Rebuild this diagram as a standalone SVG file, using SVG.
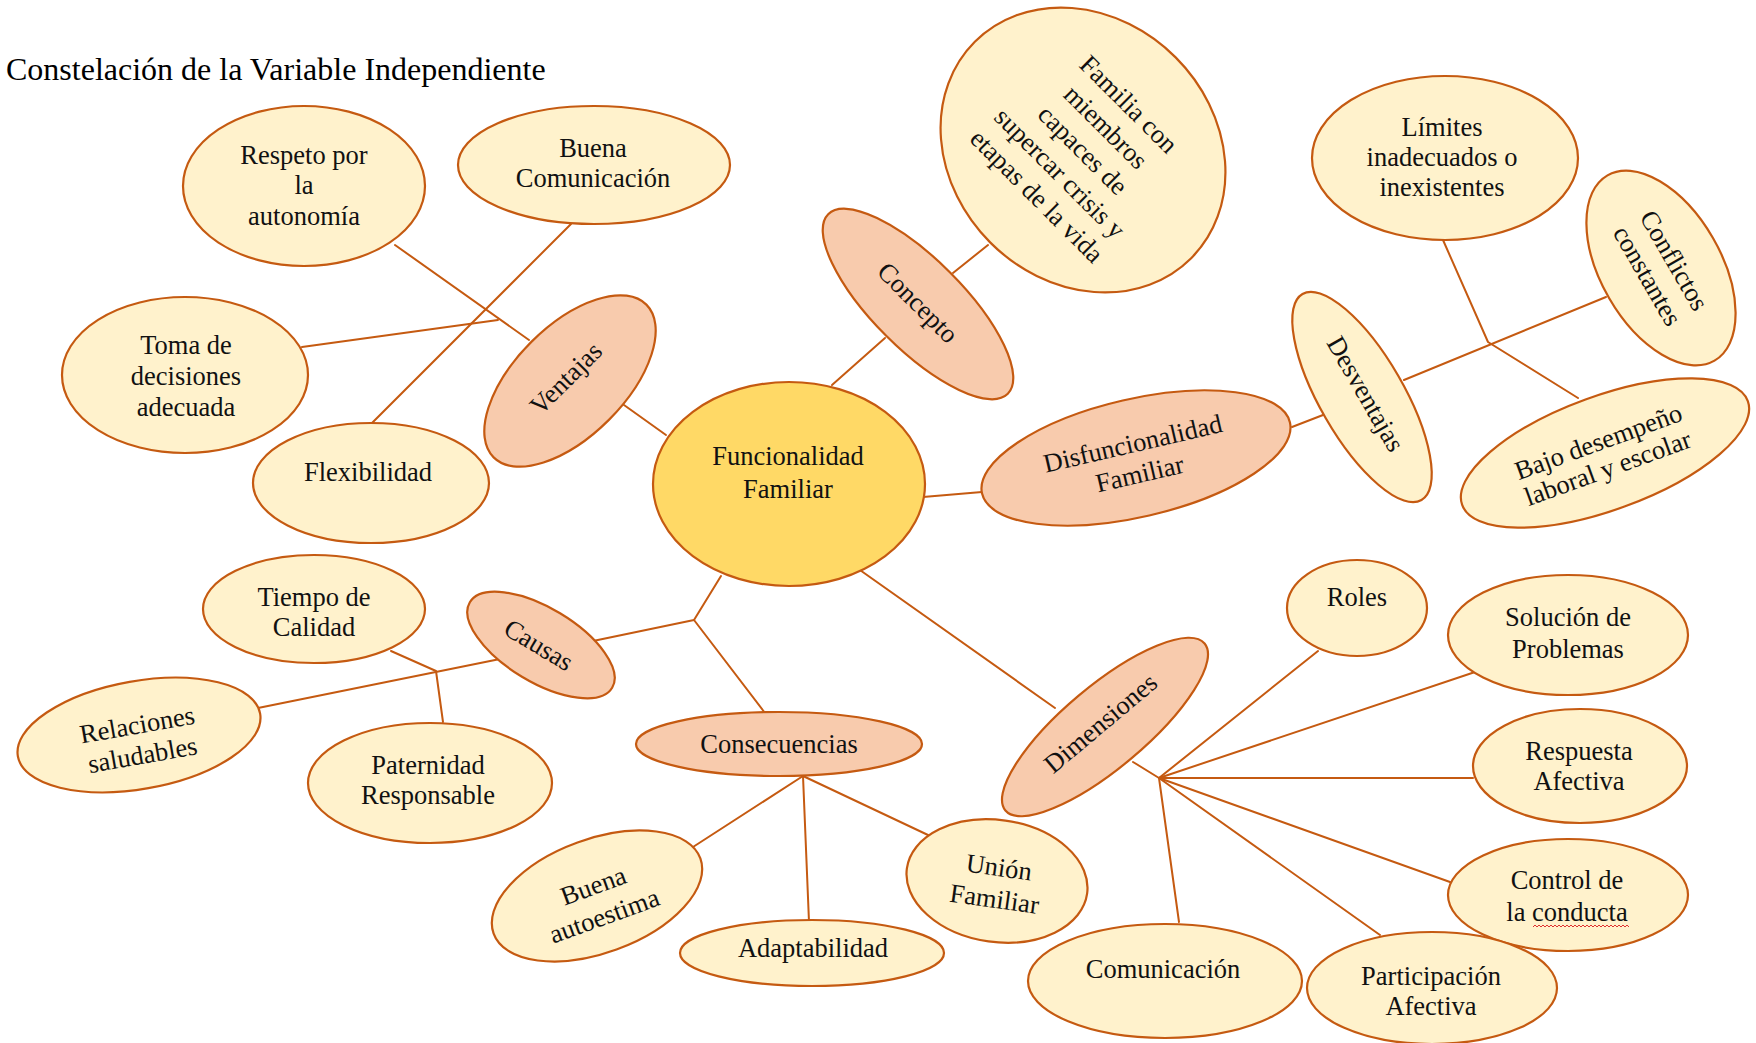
<svg xmlns="http://www.w3.org/2000/svg" width="1756" height="1043" viewBox="0 0 1756 1043">
<style>
.ln{stroke:#C55A11;stroke-width:2;fill:none;stroke-linecap:round;stroke-linejoin:round}
.lt{fill:#FFF2CC;stroke:#C55A11;stroke-width:2.2}
.sa{fill:#F8CBAD;stroke:#C55A11;stroke-width:2.2}
.ce{fill:#FFD966;stroke:#C55A11;stroke-width:2.2}
text{font-family:"Liberation Serif","Times New Roman",serif;font-size:26.5px;fill:#111;text-anchor:middle}
.title{font-size:32px;text-anchor:start;fill:#000}
</style>
<rect width="1756" height="1043" fill="#fff"/>
<text class="title" x="6" y="80">Constelación de la Variable Independiente</text>

<g id="connectors">
<path class="ln" d="M395 245L529 340"/>
<path class="ln" d="M571 224L372 423"/>
<path class="ln" d="M302 347L498 320"/>
<path class="ln" d="M624 405L666 435"/>
<path class="ln" d="M832 385L885 338"/>
<path class="ln" d="M953 273L988 245"/>
<path class="ln" d="M923 497L982 492"/>
<path class="ln" d="M1292 427L1323 415"/>
<path class="ln" d="M1404 380L1606 297"/>
<path class="ln" d="M1443 240L1488 342L1578 398"/>
<path class="ln" d="M721 576L694 620L593 641"/>
<path class="ln" d="M694 620L765 713"/>
<path class="ln" d="M500 659L258 708"/>
<path class="ln" d="M391 651L436 671L443 722"/>
<path class="ln" d="M803 776L693 847"/>
<path class="ln" d="M803 776L809 922"/>
<path class="ln" d="M803 776L928 835"/>
<path class="ln" d="M850 563L1055 708"/>
<path class="ln" d="M1133 762L1159 778"/>
<path class="ln" d="M1159 778L1318 651"/>
<path class="ln" d="M1159 778L1481 670"/>
<path class="ln" d="M1159 778L1473 778"/>
<path class="ln" d="M1159 778L1450 882"/>
<path class="ln" d="M1159 778L1380 935"/>
<path class="ln" d="M1159 778L1179 922"/>
</g>

<g id="respeto">
<ellipse class="lt" cx="304" cy="186" rx="121" ry="80"/>
<text x="304" y="164">Respeto por</text>
<text x="304" y="194">la</text>
<text x="304" y="225">autonomía</text>
</g>
<g id="buena-comunicacion">
<ellipse class="lt" cx="594" cy="165" rx="136" ry="59"/>
<text x="593" y="157">Buena</text>
<text x="593" y="187">Comunicación</text>
</g>
<g id="toma-decisiones">
<ellipse class="lt" cx="185" cy="375" rx="123" ry="78"/>
<text x="186" y="354">Toma de</text>
<text x="186" y="385">decisiones</text>
<text x="186" y="416">adecuada</text>
</g>
<g id="flexibilidad">
<ellipse class="lt" cx="371" cy="483" rx="118" ry="60"/>
<text x="368" y="481">Flexibilidad</text>
</g>
<g id="ventajas" transform="translate(570 381) rotate(-45)">
<ellipse class="sa" cx="0" cy="0" rx="108" ry="55"/>
<text x="-1" y="4">Ventajas</text>
</g>
<g id="funcionalidad">
<ellipse class="ce" cx="789" cy="484" rx="136" ry="102"/>
<text x="788" y="465">Funcionalidad</text>
<text x="788" y="498">Familiar</text>
</g>
<g id="concepto" transform="translate(918 304) rotate(45)">
<ellipse class="sa" cx="0" cy="0" rx="127" ry="45"/>
<text x="-1" y="8">Concepto</text>
</g>
<g id="familia" transform="translate(1083 150) rotate(45)">
<ellipse class="lt" cx="0" cy="0" rx="153" ry="131"/>
<text x="0" y="-56">Familia con</text>
<text x="0" y="-23.5">miembros</text>
<text x="0" y="9">capaces de</text>
<text x="0" y="41.5">supercar crisis y</text>
<text x="0" y="74">etapas de la vida</text>
</g>
<g id="disfuncionalidad" transform="translate(1136 458) rotate(-13)">
<ellipse class="sa" cx="0" cy="0" rx="158" ry="59"/>
<text x="0" y="-6">Disfuncionalidad</text>
<text x="0" y="25">Familiar</text>
</g>
<g id="desventajas" transform="translate(1362 397) rotate(60)">
<ellipse class="lt" cx="0" cy="0" rx="119" ry="42"/>
<text x="-1" y="4">Desventajas</text>
</g>
<g id="limites">
<ellipse class="lt" cx="1445" cy="158" rx="133" ry="82"/>
<text x="1442" y="136">Límites</text>
<text x="1442" y="166">inadecuados o</text>
<text x="1442" y="196">inexistentes</text>
</g>
<g id="conflictos" transform="translate(1661 268) rotate(60)">
<ellipse class="lt" cx="0" cy="0" rx="107" ry="60"/>
<text x="0" y="-6.5">Conflictos</text>
<text x="0" y="24.5">constantes</text>
</g>
<g id="bajo-desempeno" transform="translate(1605 453) rotate(-20)">
<ellipse class="lt" cx="0" cy="0" rx="152" ry="57"/>
<text x="-2.5" y="-4">Bajo desempeño</text>
<text x="-2.5" y="24">laboral y escolar</text>
</g>
<g id="tiempo-calidad">
<ellipse class="lt" cx="314" cy="609" rx="111" ry="54"/>
<text x="314" y="606">Tiempo de</text>
<text x="314" y="636">Calidad</text>
</g>
<g id="causas" transform="translate(541 645) rotate(31)">
<ellipse class="sa" cx="0" cy="0" rx="83" ry="37"/>
<text x="-2" y="10">Causas</text>
</g>
<g id="relaciones" transform="translate(139 735) rotate(-10)">
<ellipse class="lt" cx="0" cy="0" rx="123" ry="54"/>
<text x="0" y="-1.5">Relaciones</text>
<text x="0" y="29">saludables</text>
</g>
<g id="paternidad">
<ellipse class="lt" cx="430" cy="783" rx="122" ry="60"/>
<text x="428" y="774">Paternidad</text>
<text x="428" y="804">Responsable</text>
</g>
<g id="consecuencias">
<ellipse class="sa" cx="779" cy="744" rx="143" ry="32"/>
<text x="779" y="753">Consecuencias</text>
</g>
<g id="buena-autoestima" transform="translate(597 896) rotate(-20)">
<ellipse class="lt" cx="0" cy="0" rx="110" ry="57"/>
<text x="0" y="-2">Buena</text>
<text x="0" y="30">autoestima</text>
</g>
<g id="adaptabilidad">
<ellipse class="lt" cx="812" cy="953" rx="132" ry="33"/>
<text x="813" y="957">Adaptabilidad</text>
</g>
<g id="union-familiar" transform="translate(997 881) rotate(8)">
<ellipse class="lt" cx="0" cy="0" rx="91" ry="61"/>
<text x="0" y="-5">Unión</text>
<text x="0" y="27">Familiar</text>
</g>
<g id="dimensiones" transform="translate(1105 727) rotate(-40)">
<ellipse class="sa" cx="0" cy="0" rx="130" ry="41"/>
<text x="-1" y="3">Dimensiones</text>
</g>
<g id="roles">
<ellipse class="lt" cx="1357" cy="608" rx="70" ry="48"/>
<text x="1357" y="606">Roles</text>
</g>
<g id="solucion-problemas">
<ellipse class="lt" cx="1568" cy="635" rx="120" ry="60"/>
<text x="1568" y="626">Solución de</text>
<text x="1568" y="658">Problemas</text>
</g>
<g id="respuesta-afectiva">
<ellipse class="lt" cx="1580" cy="766" rx="107" ry="57"/>
<text x="1579" y="760">Respuesta</text>
<text x="1579" y="790">Afectiva</text>
</g>
<g id="control-conducta">
<ellipse class="lt" cx="1568" cy="895" rx="120" ry="56"/>
<text x="1567" y="889">Control de</text>
<text x="1567" y="921">la conducta</text>
<path d="M1533 927l2-2l2 2l2-2l2 2l2-2l2 2l2-2l2 2l2-2l2 2l2-2l2 2l2-2l2 2l2-2l2 2l2-2l2 2l2-2l2 2l2-2l2 2l2-2l2 2l2-2l2 2l2-2l2 2l2-2l2 2l2-2l2 2l2-2l2 2l2-2l2 2l2-2l2 2l2-2l2 2l2-2l2 2l2-2l2 2l2-2l2 2l2-2l2 2" fill="none" stroke="#E03030" stroke-width="1"/>
</g>
<g id="participacion-afectiva">
<ellipse class="lt" cx="1432" cy="988" rx="125" ry="56"/>
<text x="1431" y="985">Participación</text>
<text x="1431" y="1015">Afectiva</text>
</g>
<g id="comunicacion">
<ellipse class="lt" cx="1165" cy="981" rx="137" ry="57"/>
<text x="1163" y="978">Comunicación</text>
</g>
</svg>
